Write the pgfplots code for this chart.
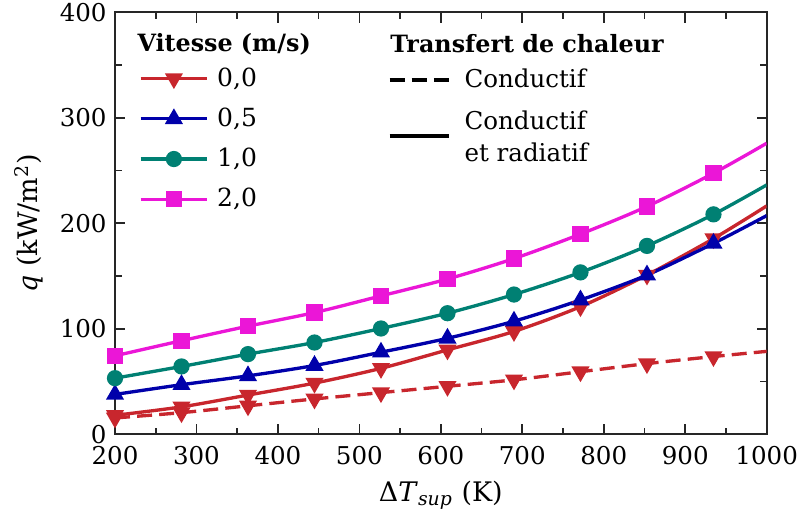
\documentclass[border=0pt]{standalone}
\usepackage{fontspec}
\setmainfont{DejaVu Serif}
\usepackage{pgfplots}
\pgfplotsset{compat=1.18}
\definecolor{cred}{RGB}{200,38,45}
\definecolor{cblue}{RGB}{0,0,170}
\definecolor{cteal}{RGB}{0,128,115}
\definecolor{cmag}{RGB}{235,22,215}

\pgfplotstableread{
x      cond  v00   v05   v10   v20
200    15.5  18.0  37.8  53.2  74.4
281.63 20.5  26.0  47.0  64.3  88.7
363.27 27.0  37.2  55.4  76.0  102.5
444.90 33.5  48.5  65.2  87.0  115.4
526.53 39.5  62.5  77.8  100.3 131.2
608.16 45.5  80.0  91.0  114.8 147.2
689.80 51.6  97.5  107.2 132.5 166.6
771.43 59.3  121.0 127.3 153.5 189.8
853.06 67.0  151.0 151.0 178.6 216.0
934.69 73.7  185.5 181.0 208.5 247.5
1000   78.6  216.5 207.3 236.4 275.9
}\datatable

\begin{document}
\begin{tikzpicture}[font=\fontsize{10}{12}\selectfont]
\pgfplotsset{
  myaxis/.style={scale only axis, width=273.7pt, height=177.2pt,
    xmin=200, xmax=1000, ymin=0, ymax=400},
}
\useasboundingbox (-48.3pt,-33.8pt) rectangle (287.7pt,182.4pt);
\begin{axis}[myaxis,
  xtick={200,300,...,1000}, ytick={0,100,...,400}, minor tick num=1,
  /pgf/number format/assume math mode=true,
  /pgf/number format/1000 sep={},
  ticklabel style={font=\fontsize{10.3}{12}\selectfont},
  xticklabel style={yshift=-1.5pt},
  xlabel={Δ\textit{T}\textsubscript{\textit{sup}} (K)},
  ylabel={\textit{q} (kW/m\textsuperscript{2})},
  label style={font=\fontsize{11.3}{13}\selectfont},
  axis line style={line width=0.8pt, black!85},
  every tick/.style={black!85, line width=0.7pt},
  legend style={draw=none, fill=none, at={(rel axis cs:0.025,0.893)}, anchor=north west,
    row sep=3.6pt, font=\fontsize{10.5}{12}\selectfont,
    /tikz/every odd column/.style={column sep=1.5pt}},
  legend cell align=left,
  legend image code/.code={\draw[mark indices={2}] plot coordinates {(0pt,0pt) (14pt,0pt) (28pt,0pt)};},
  every axis plot/.append style={line width=1.4pt, mark size=2.7pt, mark options={solid}, smooth},
]
\addplot[cred, dash pattern=on 6.3pt off 3pt, mark=triangle*, mark size=3pt, mark options={rotate=180, solid}, mark indices={1,...,10}, forget plot] table[x=x, y=cond] {\datatable};
\addplot[cred, mark=triangle*, mark size=3pt, mark options={rotate=180}, mark indices={1,...,10}] table[x=x, y=v00] {\datatable};
\addlegendentry{0,0}
\addplot[cblue, mark=triangle*, mark size=3pt, mark indices={1,...,10}] table[x=x, y=v05] {\datatable};
\addlegendentry{0,5}
\addplot[cteal, mark=*, mark indices={1,...,10}] table[x=x, y=v10] {\datatable};
\addlegendentry{1,0}
\addplot[cmag, mark=square*, mark indices={1,...,10}] table[x=x, y=v20] {\datatable};
\addlegendentry{2,0}
\node[anchor=west, font=\bfseries\fontsize{10}{12}\selectfont, inner sep=0pt] at (rel axis cs:0.0338,0.925) {Vitesse (m/s)};
\node[anchor=west, font=\bfseries\fontsize{10}{12}\selectfont, inner sep=0pt] at (rel axis cs:0.422,0.925) {Transfert de chaleur};
\end{axis}
\begin{axis}[myaxis, hide axis,
  legend style={draw=none, fill=none, at={(rel axis cs:0.407,0.89)}, anchor=north west,
    row sep=2.8pt, font=\fontsize{10.3}{13.4}\selectfont,
    /tikz/every odd column/.style={column sep=3.8pt}},
  legend cell align=left,
  legend image code/.code={\draw (0pt,0pt) -- (25pt,0pt);},
]
\addlegendimage{black, line width=1.4pt, dash pattern=on 6.3pt off 3pt}
\addlegendentry{Conductif}
\addlegendimage{black, line width=1.4pt, legend image code/.code={\draw (0pt,-3.4pt) -- (25pt,-3.4pt);}}
\addlegendentry{\begin{tabular}{@{}l@{}}Conductif\\et radiatif\end{tabular}}
\end{axis}
\end{tikzpicture}
\end{document}
